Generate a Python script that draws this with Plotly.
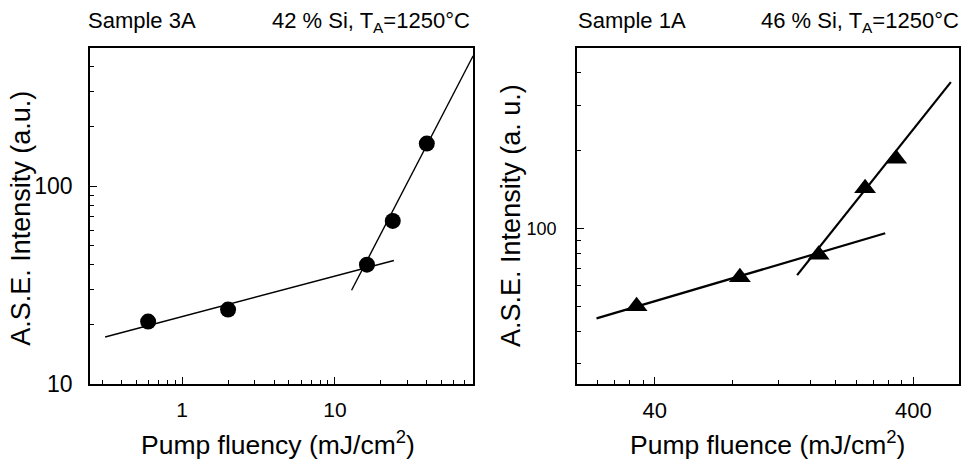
import plotly.graph_objects as go
import math

# ---- Data ----
# Left panel: Sample 3A
fluency_3A = [0.6, 2.0, 16.2, 23.9, 39.9]
ase_3A = [20.7, 23.8, 40.1, 66.7, 164]
fit_low_3A_x = [0.314, 24.3]
fit_low_3A_y = [17.3, 42.1]
fit_high_3A_x = [12.85, 80.2]
fit_high_3A_y = [29.8, 455]

# Right panel: Sample 1A
fluence_1A = [34.0, 85.3, 172, 260, 343]
ase_1A = [50.0, 64.8, 79.2, 143, 186]
fit_low_1A_x = [23.8, 311]
fit_low_1A_y = [44.9, 95.8]
fit_high_1A_x = [142, 558]
fit_high_1A_y = [66.0, 368]

# Axis ticks
left_x_major = [1, 10]
left_x_minor = [0.3, 0.4, 0.5, 0.6, 0.7, 0.8, 0.9, 2, 3, 4, 5, 6, 7, 8, 9, 20, 30, 40, 50, 60, 70]
left_y_major = [10, 100]
left_y_minor = [20, 30, 40, 50, 60, 70, 80, 90, 200, 300, 400]
right_x_major = [40, 400]
right_x_minor = [24, 28, 32, 36, 80, 120, 160, 200, 240, 280, 320, 360]
right_y_major = [100]
right_y_minor = [30, 40, 50, 60, 70, 80, 90, 200, 300, 400]

left_x_range = [0.25, 80]
left_y_range = [10, 500]
right_x_range = [20, 600]
right_y_range = [25, 500]

FONT = "Liberation Sans, Arial, Helvetica, sans-serif"

fig = go.Figure()

# Left panel
fig.add_trace(go.Scatter(x=fit_low_3A_x, y=fit_low_3A_y, mode="lines",
                         line=dict(color="black", width=1.4), xaxis="x", yaxis="y", showlegend=False))
fig.add_trace(go.Scatter(x=fit_high_3A_x, y=fit_high_3A_y, mode="lines",
                         line=dict(color="black", width=1.4), xaxis="x", yaxis="y", showlegend=False))
fig.add_trace(go.Scatter(x=fluency_3A, y=ase_3A, mode="markers",
                         marker=dict(symbol="circle", size=16, color="black"),
                         xaxis="x", yaxis="y", showlegend=False))

# Right panel
fig.add_trace(go.Scatter(x=fit_low_1A_x, y=fit_low_1A_y, mode="lines",
                         line=dict(color="black", width=2.2), xaxis="x2", yaxis="y2", showlegend=False))
fig.add_trace(go.Scatter(x=fit_high_1A_x, y=fit_high_1A_y, mode="lines",
                         line=dict(color="black", width=2.2), xaxis="x2", yaxis="y2", showlegend=False))
fig.add_trace(go.Scatter(x=fluence_1A, y=ase_1A, mode="markers",
                         marker=dict(symbol="triangle-up", size=19, color="black"),
                         xaxis="x2", yaxis="y2", showlegend=False))


def log_axis(rng, major, minor, domain, anchor, standoff, fsize, show_labels=True,
             side=None, overlaying=None):
    ax = dict(
        type="log",
        range=[math.log10(rng[0]), math.log10(rng[1])],
        domain=domain,
        anchor=anchor,
        showgrid=False,
        zeroline=False,
        showline=show_labels,
        linecolor="black",
        linewidth=1.6,
        mirror=True,
        ticks="inside",
        ticklen=7,
        tickwidth=1.4,
        tickcolor="black",
        tickmode="array",
        tickvals=major,
        ticktext=[str(v) for v in major],
        showticklabels=show_labels,
        tickfont=dict(family=FONT, size=fsize, color="black"),
        ticklabelstandoff=standoff,
        minor=dict(tickmode="array", tickvals=minor, ticks="inside", ticklen=4,
                   tickwidth=1.2, tickcolor="black", showgrid=False),
        fixedrange=True,
    )
    if side:
        ax["side"] = side
    if overlaying:
        ax["overlaying"] = overlaying
    return ax


W, H = 962, 474
ydom = [(H - 395) / H, (H - 49) / H]
lxdom = [90 / W, 473 / W]
rxdom = [577 / W, 959 / W]

fig.update_layout(
    width=W, height=H,
    margin=dict(l=0, r=0, t=0, b=0),
    paper_bgcolor="white", plot_bgcolor="white",
    font=dict(family=FONT, color="black"),
    xaxis=log_axis(left_x_range, left_x_major, left_x_minor, lxdom, "y", 6, 21),
    yaxis=log_axis(left_y_range, left_y_major, left_y_minor, ydom, "x", 11, 23),
    xaxis2=log_axis(right_x_range, right_x_major, right_x_minor, rxdom, "y2", 6, 22),
    yaxis2=log_axis(right_y_range, right_y_major, right_y_minor, ydom, "x2", 15, 18),
    # mirrored tick axes (top / right)
    xaxis3=log_axis(left_x_range, left_x_major, left_x_minor, lxdom, "y", 6, 21,
                    show_labels=False, side="top", overlaying="x"),
    yaxis3=log_axis(left_y_range, left_y_major, left_y_minor, ydom, "x", 11, 23,
                    show_labels=False, side="right", overlaying="y"),
    xaxis4=log_axis(right_x_range, right_x_major, right_x_minor, rxdom, "y2", 6, 22,
                    show_labels=False, side="top", overlaying="x2"),
    yaxis4=log_axis(right_y_range, right_y_major, right_y_minor, ydom, "x2", 15, 18,
                    show_labels=False, side="right", overlaying="y2"),
)


def ann(text, x, y, size, xanchor="center", yanchor="middle", angle=0):
    fig.add_annotation(text=text, x=x / W, y=1 - y / H, xref="paper", yref="paper",
                       showarrow=False, xanchor=xanchor, yanchor=yanchor, textangle=angle,
                       font=dict(family=FONT, size=size, color="black"))


# Headers
ann("Sample 3A", 86, 21, 22, xanchor="left")
ann("42 % Si, T<sub>A</sub>=1250°C", 472, 23, 22, xanchor="right")
ann("Sample 1A", 576, 21, 22, xanchor="left")
ann("46 % Si, T<sub>A</sub>=1250°C", 961, 23, 22, xanchor="right")

# Axis titles
ann("Pump fluency (mJ/cm<sup>2</sup>)", 278, 456, 26.5)
ann("Pump fluence (mJ/cm<sup>2</sup>)", 767, 456, 26.5)
ann("A.S.E. Intensity (a.u.)", 21, 225, 27, angle=-90)
ann("A.S.E. Intensity (a. u.)", 511, 221, 27, angle=-90)

fig.write_html("out.html")
